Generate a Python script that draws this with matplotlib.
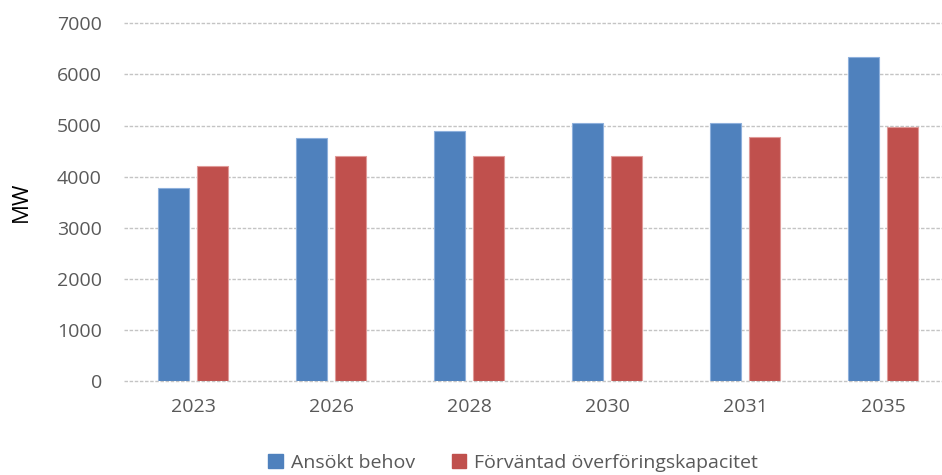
import numpy as np
import matplotlib.pyplot as plt
from matplotlib.patches import Patch

# data
years = ["2023", "2026", "2028", "2030", "2031", "2035"]
ansokt_behov = [3770, 4750, 4900, 5050, 5050, 6350]
forvantad_kapacitet = [4200, 4400, 4400, 4400, 4780, 4980]

BLUE = "#4F81BD"
RED = "#C0504D"
GREY_TXT = "#595959"

plt.rcParams['font.family'] = ['Open Sans', 'DejaVu Sans']

fig = plt.figure(figsize=(9.42, 4.75), dpi=100)
ax = fig.add_axes([124 / 942, 94 / 475, 828 / 942, 357.7 / 475])

x = np.arange(len(years))
w = 0.225
off = 0.143
ax.bar(x - off, ansokt_behov, w, color=BLUE, edgecolor="#8EB0DC", linewidth=0.8, zorder=3)
ax.bar(x + off, forvantad_kapacitet, w, color=RED, edgecolor="#E09A98", linewidth=0.8, zorder=3)

ax.set_xlim(-0.5, len(years) - 0.5)
ax.set_ylim(0, 7000)
ax.set_yticks(range(0, 7001, 1000))
ax.set_xticks(x)
ax.set_xticklabels(years)
ax.yaxis.grid(True, color="#C4C4C4", linestyle=(0, (2.5, 1.2)), linewidth=1, zorder=0)
for gl in ax.get_ygridlines():
    gl.set_clip_on(False)
for s in ax.spines.values():
    s.set_visible(False)
ax.tick_params(axis='both', length=0, labelsize=14, labelcolor=GREY_TXT)
ax.tick_params(axis='y', pad=16)
ax.tick_params(axis='x', pad=12)

fig.text(21 / 942, 1 - 202 / 475, "MW", rotation=90, ha="center", va="center",
         fontsize=16, color="black")

handles = [Patch(facecolor=BLUE, edgecolor=BLUE), Patch(facecolor=RED, edgecolor=RED)]
fig.legend(handles, ["Ansökt behov", "Förväntad överföringskapacitet"], ncol=2,
           loc="center", bbox_to_anchor=(513 / 942, 1 - 463 / 475), frameon=False,
           fontsize=14, labelcolor=GREY_TXT, handlelength=0.75, handleheight=0.75,
           handletextpad=0.4, columnspacing=1.9, borderpad=0)

fig.savefig("out.png", dpi=100)
